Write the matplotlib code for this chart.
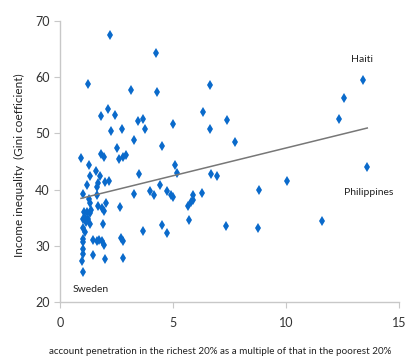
import matplotlib
matplotlib.use("Agg")
import matplotlib.pyplot as plt
import numpy as np

plt.rcParams['font.family'] = ['Lato', 'DejaVu Sans']

# account penetration ratio (richest 20% / poorest 20%)
x_ratio = [2.21, 4.22, 1.24, 3.15, 4.27, 6.65, 13.42, 12.57, 12.36, 7.39,
           7.75, 13.6, 11.6, 10.06, 8.8, 7.33, 8.76, 2.12, 1.8, 2.43,
           6.33, 2.26, 2.73, 3.45, 3.67, 3.75, 5.0, 6.64, 3.27, 4.52,
           2.5, 0.92, 1.8, 1.92, 2.62, 2.79, 2.92, 1.26, 1.57, 1.33,
           1.77, 3.49, 5.09, 5.16, 6.69, 6.96, 1.2, 1.69, 1.63, 1.98,
           2.15, 4.4, 3.97, 4.16, 4.71, 4.92, 4.99, 3.27, 1.02, 1.28,
           1.31, 1.61, 2.03, 5.9, 5.86, 5.8, 6.28, 5.66, 2.64, 1.67,
           1.86, 1.95, 1.05, 1.2, 1.31, 1.36, 0.99, 1.1, 1.21, 1.14,
           1.31, 1.02, 1.08, 1.88, 5.71, 3.66, 4.5, 4.71, 1.46, 1.62,
           1.73, 1.86, 1.03, 1.0, 1.93, 2.69, 2.8, 1.02, 1.0, 1.46,
           2.0, 2.8, 0.98, 0.99]
# Gini coefficient
gini = [67.4, 64.3, 58.7, 57.7, 57.3, 58.5, 59.5, 56.3, 52.5, 52.4,
        48.5, 44.1, 34.4, 41.5, 39.9, 33.5, 33.2, 54.3, 53.1, 53.3,
        53.7, 50.4, 50.7, 52.2, 52.5, 50.8, 51.7, 50.8, 48.8, 47.7,
        47.4, 45.6, 46.3, 45.8, 45.4, 45.8, 46.2, 44.3, 43.3, 42.5,
        42.4, 42.8, 44.4, 43.0, 42.8, 42.5, 40.9, 41.1, 40.5, 41.4,
        41.5, 40.8, 39.7, 39.1, 39.8, 39.0, 38.6, 39.2, 39.3, 38.4,
        37.6, 39.0, 37.7, 39.1, 38.2, 37.8, 39.4, 37.0, 36.9, 37.0,
        36.8, 36.2, 36.1, 36.0, 35.9, 36.3, 34.8, 35.0, 34.7, 34.2,
        33.9, 33.1, 32.5, 33.8, 34.6, 32.6, 33.7, 32.2, 31.0, 30.9,
        31.0, 30.8, 31.2, 30.6, 30.2, 31.4, 30.8, 29.4, 28.6, 28.4,
        27.6, 27.9, 27.3, 25.3]

labels = ["Haiti", "Philippines", "Sweden"]
label_x = [13.35, 13.67, 1.35]
label_y = [63.2, 39.5, 22.3]

x_ticks = [0, 5, 10, 15]
y_ticks = [20, 30, 40, 50, 60, 70]

fig = plt.figure(figsize=(4.07, 3.58), dpi=100)
ax = fig.add_axes([0.148, 0.156, 0.832, 0.786])

xs = np.array(x_ratio)
ys = np.array(gini)
ax.plot(xs, ys, linestyle='none', marker='d', markersize=5.6,
        color='#0A6ACB', markeredgewidth=0)

coef = np.polyfit(xs, ys, 1)
xl = np.array([xs.min(), xs.max()])
ax.plot(xl, np.polyval(coef, xl), color='#777777', linewidth=1.1)

for t, lx, ly in zip(labels, label_x, label_y):
    ax.text(lx, ly, t, ha='center', va='center', fontsize=7.5, color='#222222')

ax.set_xlim(0, 15)
ax.set_ylim(20, 70)
ax.set_xticks(x_ticks)
ax.set_yticks(y_ticks)
for s in ['top', 'right']:
    ax.spines[s].set_visible(False)
for s in ['left', 'bottom']:
    ax.spines[s].set_color('#C8C8C8')
    ax.spines[s].set_linewidth(1.0)
ax.tick_params(axis='both', colors='#C8C8C8', labelcolor='#333333',
               labelsize=9, length=4)
ax.tick_params(axis='x', pad=7)

ax.set_ylabel('Income inequality  (Gini coefficient)', fontsize=8.5,
              color='#222222')
ax.yaxis.set_label_coords(-0.105, 0.486)
ax.set_xlabel('account penetration in the richest 20% as a multiple of that in the poorest 20%',
              fontsize=7.15, color='#222222')
ax.xaxis.set_label_coords(0.472, -0.16)

fig.savefig('out.png', dpi=100)
